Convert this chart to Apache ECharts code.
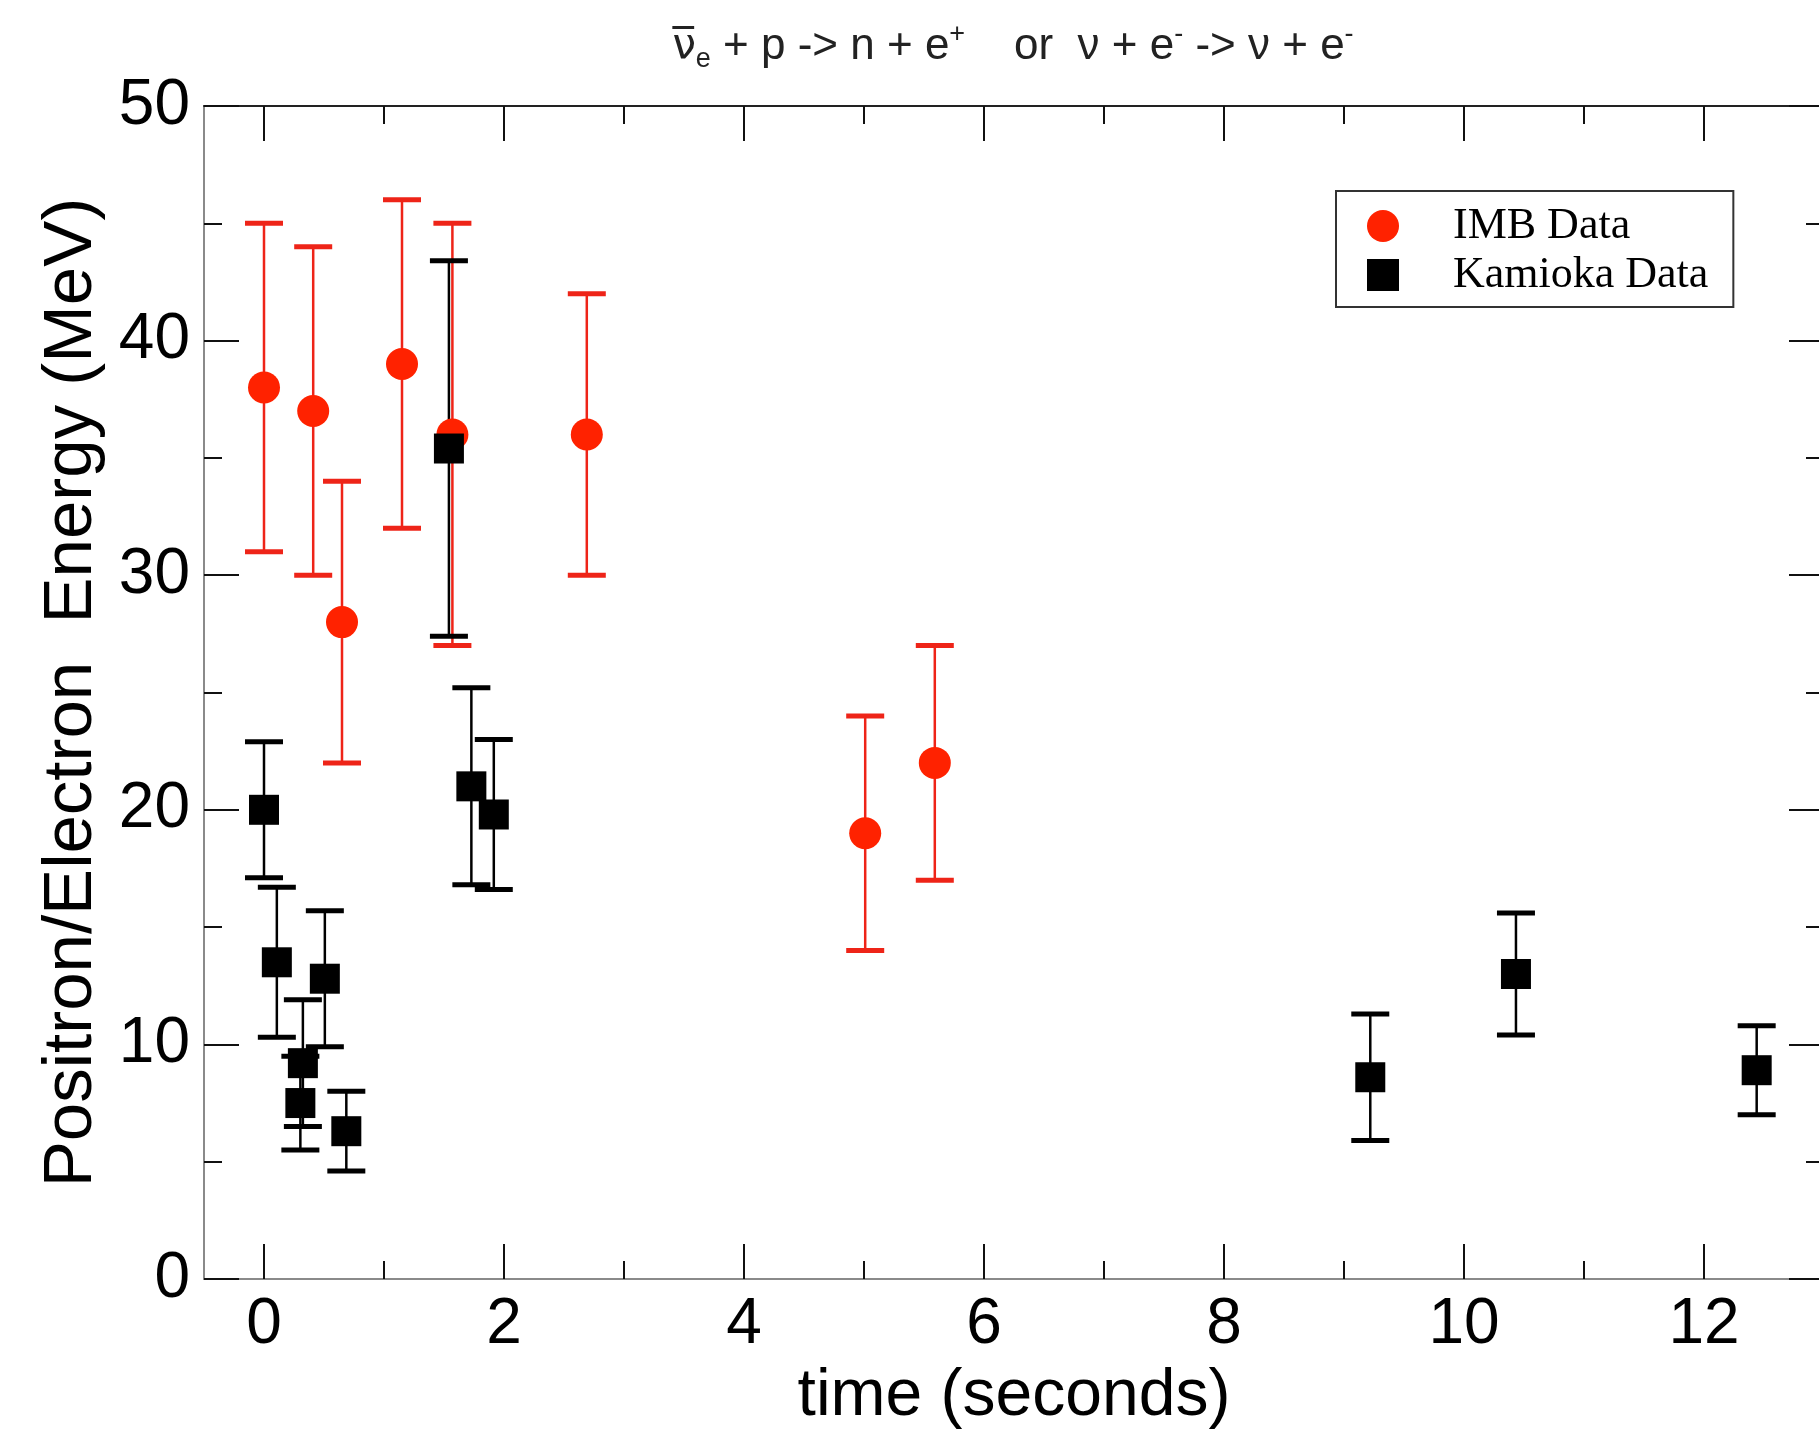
<!DOCTYPE html>
<html>
<head>
<meta charset="utf-8">
<script src="https://cdn.jsdelivr.net/npm/echarts@6/dist/echarts.min.js"></script>
<style>
html,body{margin:0;padding:0;background:#fff;}
#chart{width:1819px;height:1430px;}
</style>
</head>
<body>
<div id="chart"></div>
<script>
// ---- data ----
var imbTime   = [0.00, 0.41, 0.65, 1.15, 1.57, 2.69, 5.01, 5.59];
var imbEnergy = [38, 37, 28, 39, 36, 36, 19, 22];
var imbError  = [7, 7, 6, 7, 9, 6, 5, 5];

var kamTime   = [0.00, 0.107, 0.303, 0.324, 0.507, 0.686, 1.541, 1.728, 1.915, 9.219, 10.433, 12.439];
var kamEnergy = [20.0, 13.5, 7.5, 9.2, 12.8, 6.3, 35.4, 21.0, 19.8, 8.6, 13.0, 8.9];
var kamError  = [2.9, 3.2, 2.0, 2.7, 2.9, 1.7, 8.0, 4.2, 3.2, 2.7, 2.6, 1.9];

var xMajorTicks = [0, 2, 4, 6, 8, 10, 12];
var xMinorTicks = [1, 3, 5, 7, 9, 11];

var seriesNames = ['IMB Data', 'Kamioka Data'];

// ---- build series data ----
function points(t, e) { return t.map(function (v, i) { return [v, e[i]]; }); }
function bars(t, e, err) { return t.map(function (v, i) { return [v, e[i] - err[i], e[i] + err[i]]; }); }

function errRenderer(color) {
  return function (params, api) {
    var x = api.value(0), lo = api.value(1), hi = api.value(2);
    var pLo = api.coord([x, lo]), pHi = api.coord([x, hi]);
    var hw = 19;
    return {
      type: 'group',
      children: [
        { type: 'line', shape: { x1: pLo[0], y1: pLo[1], x2: pHi[0], y2: pHi[1] }, style: { stroke: color, lineWidth: 2.5 } },
        { type: 'line', shape: { x1: pLo[0] - hw, y1: pLo[1], x2: pLo[0] + hw, y2: pLo[1] }, style: { stroke: color, lineWidth: 5 } },
        { type: 'line', shape: { x1: pHi[0] - hw, y1: pHi[1], x2: pHi[0] + hw, y2: pHi[1] }, style: { stroke: color, lineWidth: 5 } }
      ]
    };
  };
}

var RED = '#ff2200', RED_BAR = '#ee2418', BLACK = '#000000';
var AX_FONT = 'Liberation Sans';

var chart = echarts.init(document.getElementById('chart'), null, { renderer: 'canvas' });

var xBase = { type: 'value', min: -0.5, max: 13, splitLine: { show: false } };
function xAxisDef(pos, ticks, len, showLine, lineColor, labels) {
  return Object.assign({}, xBase, {
    position: pos,
    axisLine: { show: showLine, onZero: false, lineStyle: { color: lineColor, width: 2 } },
    axisTick: { show: true, inside: true, length: len, customValues: ticks, lineStyle: { color: '#111', width: 2 } },
    axisLabel: labels ? { show: true, customValues: ticks, fontSize: 64, margin: 14, color: '#000', fontFamily: AX_FONT } : { show: false },
    minorTick: { show: false }
  });
}

var xAxes = [
  Object.assign(xAxisDef('bottom', xMajorTicks, 35, true, '#8a8a8a', true), {
    name: 'time (seconds)', nameLocation: 'middle', nameGap: 85,
    nameTextStyle: { fontSize: 66, color: '#000', fontFamily: AX_FONT }
  }),
  xAxisDef('bottom', xMinorTicks, 18, false, '#888', false),
  xAxisDef('top', xMajorTicks, 35, true, '#222', false),
  xAxisDef('top', xMinorTicks, 18, false, '#222', false)
];

function yAxisDef(pos, labels, lineColor) {
  return {
    type: 'value', position: pos, min: 0, max: 50, interval: 10,
    splitLine: { show: false },
    axisLine: { show: true, onZero: false, lineStyle: { color: lineColor, width: 2 } },
    axisTick: { show: true, inside: true, length: 35, lineStyle: { color: '#111', width: 2 } },
    minorTick: { show: true, splitNumber: 2, length: 18, lineStyle: { color: '#111', width: 2 } },
    axisLabel: labels ? { show: true, fontSize: 64, margin: 14, color: '#000', fontFamily: AX_FONT } : { show: false }
  };
}
var yAxes = [
  Object.assign(yAxisDef('left', true, '#8a8a8a'), {
    name: 'Positron/Electron  Energy (MeV)', nameLocation: 'middle', nameGap: 98,
    nameTextStyle: { fontSize: 69, color: '#000', fontFamily: AX_FONT }
  }),
  yAxisDef('right', false, '#222')
];

var option = {
  backgroundColor: '#ffffff',
  animation: false,
  title: {
    text: '{nu|\u03BD\u0305}{sub|e} + p -> n + e{sup|+}    or  \u03BD + e{sup|-} -> \u03BD + e{sup|-}',
    left: 1008, top: 16, textAlign: 'center',
    textStyle: {
      fontFamily: AX_FONT, fontSize: 44, fontWeight: 'normal', color: '#222', lineHeight: 52,
      rich: {
        nu: { fontFamily: 'DejaVu Sans', fontSize: 42, color: '#222' },
        sub: { fontFamily: AX_FONT, fontSize: 27, color: '#222', verticalAlign: 'bottom', lineHeight: 27 },
        sup: { fontFamily: AX_FONT, fontSize: 27, color: '#222', verticalAlign: 'top', lineHeight: 27 }
      }
    }
  },
  legend: {
    data: seriesNames,
    orient: 'vertical', left: 1336, top: 191,
    padding: [13, 25, 10, 31],
    itemWidth: 32, itemHeight: 32, itemGap: 5,
    backgroundColor: '#fff', borderColor: '#333', borderWidth: 2, borderRadius: 0,
    selectedMode: false,
    textStyle: { fontFamily: 'Liberation Serif', fontSize: 44, color: '#000', lineHeight: 36, padding: [0, 0, 0, 49] }
  },
  grid: { left: 204, right: -5, top: 106, bottom: 151, containLabel: false, outerBoundsMode: 'none' },
  xAxis: xAxes,
  yAxis: yAxes,
  series: [
    { name: 'IMB err', type: 'custom', xAxisIndex: 0, yAxisIndex: 0, renderItem: errRenderer(RED_BAR),
      data: bars(imbTime, imbEnergy, imbError), encode: { x: 0, y: [1, 2] }, silent: true },
    { name: seriesNames[0], type: 'scatter', xAxisIndex: 0, yAxisIndex: 0, symbol: 'circle', symbolSize: 32,
      itemStyle: { color: RED, opacity: 1 }, data: points(imbTime, imbEnergy) },
    { name: 'Kamioka err', type: 'custom', xAxisIndex: 0, yAxisIndex: 0, renderItem: errRenderer(BLACK),
      data: bars(kamTime, kamEnergy, kamError), encode: { x: 0, y: [1, 2] }, silent: true },
    { name: seriesNames[1], type: 'scatter', xAxisIndex: 0, yAxisIndex: 0, symbol: 'rect', symbolSize: 30,
      itemStyle: { color: BLACK, opacity: 1 }, data: points(kamTime, kamEnergy) }
  ]
};
chart.setOption(option);
</script>
</body>
</html>
